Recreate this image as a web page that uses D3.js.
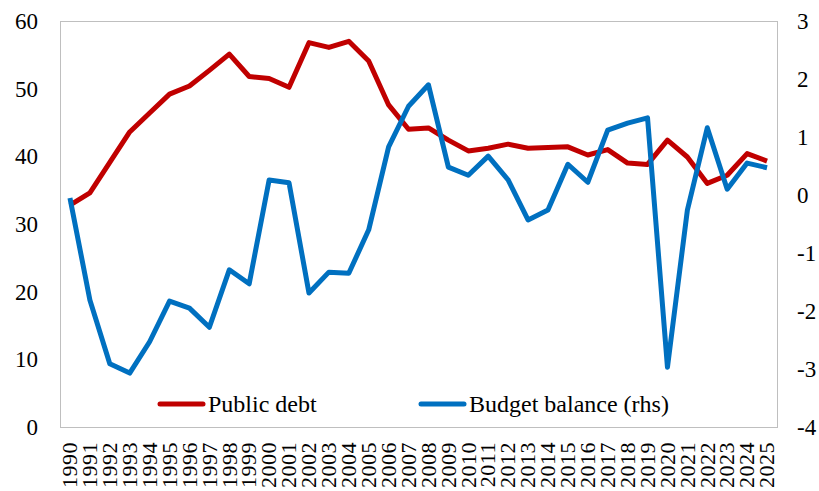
<!DOCTYPE html>
<html>
<head>
<meta charset="utf-8">
<script src="https://cdn.jsdelivr.net/npm/d3@7"></script>
</head>
<body style="margin:0; background:#fff">
<div id="chart"></div>
<script>
// years on the category axis
var years = d3.range(1990, 2026).map(String);

// public debt, % of GDP (left axis)
var publicDebt = [32.8, 34.6, 39.1, 43.6, 46.4, 49.2, 50.4, 52.7, 55.1, 51.8,
                  51.5, 50.2, 56.8, 56.1, 57.0, 54.1, 47.6, 44.0, 44.2, 42.4,
                  40.8, 41.2, 41.8, 41.2, 41.3, 41.4, 40.2, 41.0, 39.0, 38.8,
                  42.4, 39.9, 36.0, 37.2, 40.4, 39.3];

// budget balance, % of GDP (right axis)
var budgetBalance = [-0.05, -1.81, -2.91, -3.07, -2.53, -1.83, -1.95, -2.28, -1.29, -1.53,
                     0.26, 0.21, -1.69, -1.33, -1.35, -0.60, 0.83, 1.53, 1.90, 0.48,
                     0.34, 0.67, 0.26, -0.43, -0.26, 0.53, 0.22, 1.12, 1.24, 1.33,
                     -2.97, -0.26, 1.16, 0.10, 0.55, 0.47];

var leftTicks = [0, 10, 20, 30, 40, 50, 60];
var rightTicks = [-4, -3, -2, -1, 0, 1, 2, 3];

var width = 819, height = 491;
var plot = { left: 60, right: 777, top: 21, bottom: 427 };
var fontName = "'Liberation Serif'";

var svg = d3.select("#chart").append("svg")
    .attr("width", width)
    .attr("height", height);

var x = d3.scaleBand()
    .domain(years)
    .range([plot.left, plot.right]);

var yL = d3.scaleLinear().domain([0, 60]).range([plot.bottom, plot.top]);
var yR = d3.scaleLinear().domain([-4, 3]).range([plot.bottom, plot.top]);

// plain hyphen for negatives, like the original
var fmt = function (d) { return String(d); };

// plot frame
svg.append("rect")
    .attr("x", plot.left + 0.5)
    .attr("y", plot.top + 0.5)
    .attr("width", plot.right - plot.left)
    .attr("height", plot.bottom - plot.top)
    .attr("fill", "none")
    .attr("stroke", "#bfbfbf")
    .attr("stroke-width", 1);

// left axis
var gl = svg.append("g")
    .attr("transform", "translate(" + plot.left + ",0)")
    .call(d3.axisLeft(yL).tickValues(leftTicks).tickFormat(fmt).tickSize(0).tickPadding(22));
gl.attr("font-family", null).attr("font-size", null);
gl.select(".domain").remove();
gl.selectAll("text")
    .style("font-family", fontName)
    .style("font-size", "23px")
    .attr("fill", "#000");

// right axis
var gr = svg.append("g")
    .attr("transform", "translate(" + plot.right + ",0)")
    .call(d3.axisRight(yR).tickValues(rightTicks).tickFormat(fmt).tickSize(0).tickPadding(20));
gr.attr("font-family", null).attr("font-size", null);
gr.select(".domain").remove();
gr.selectAll("text")
    .style("font-family", fontName)
    .style("font-size", "23px")
    .attr("fill", "#000");

// year labels, rotated
var gb = svg.append("g")
    .attr("transform", "translate(0," + plot.bottom + ")")
    .call(d3.axisBottom(x).tickSize(0).tickPadding(0));
gb.attr("font-family", null).attr("font-size", null);
gb.select(".domain").remove();
gb.selectAll("text")
    .attr("transform", "rotate(-90)")
    .attr("text-anchor", "end")
    .attr("x", -15)
    .attr("y", 0)
    .attr("dy", "0.33em")
    .attr("fill", "#000")
    .style("font-family", fontName)
    .style("font-size", "22px")
    .style("letter-spacing", "0.5px");

function cx(d, i) { return x(years[i]) + x.bandwidth() / 2; }

// series
svg.append("path")
    .datum(publicDebt)
    .attr("fill", "none")
    .attr("stroke", "#c00000")
    .attr("stroke-width", 5)
    .attr("stroke-linejoin", "round")
    .attr("d", d3.line().x(cx).y(function (d) { return yL(d); }));

svg.append("path")
    .datum(budgetBalance)
    .attr("fill", "none")
    .attr("stroke", "#0070c0")
    .attr("stroke-width", 5)
    .attr("stroke-linejoin", "round")
    .attr("d", d3.line().x(cx).y(function (d) { return yR(d); }));

// legend
var legend = [
    { name: "Public debt", color: "#c00000", x: 158 },
    { name: "Budget balance (rhs)", color: "#0070c0", x: 419 }
];
var lg = svg.append("g").selectAll("g")
    .data(legend)
    .enter().append("g")
    .attr("transform", function (d) { return "translate(" + d.x + ",404)"; });
lg.append("line")
    .attr("x1", 2).attr("x2", 45)
    .attr("stroke", function (d) { return d.color; })
    .attr("stroke-width", 5)
    .attr("stroke-linecap", "round");
lg.append("text")
    .attr("x", 50)
    .attr("dy", "0.35em")
    .style("font-family", fontName)
    .style("font-size", "24px")
    .text(function (d) { return d.name; });
</script>
</body>
</html>
